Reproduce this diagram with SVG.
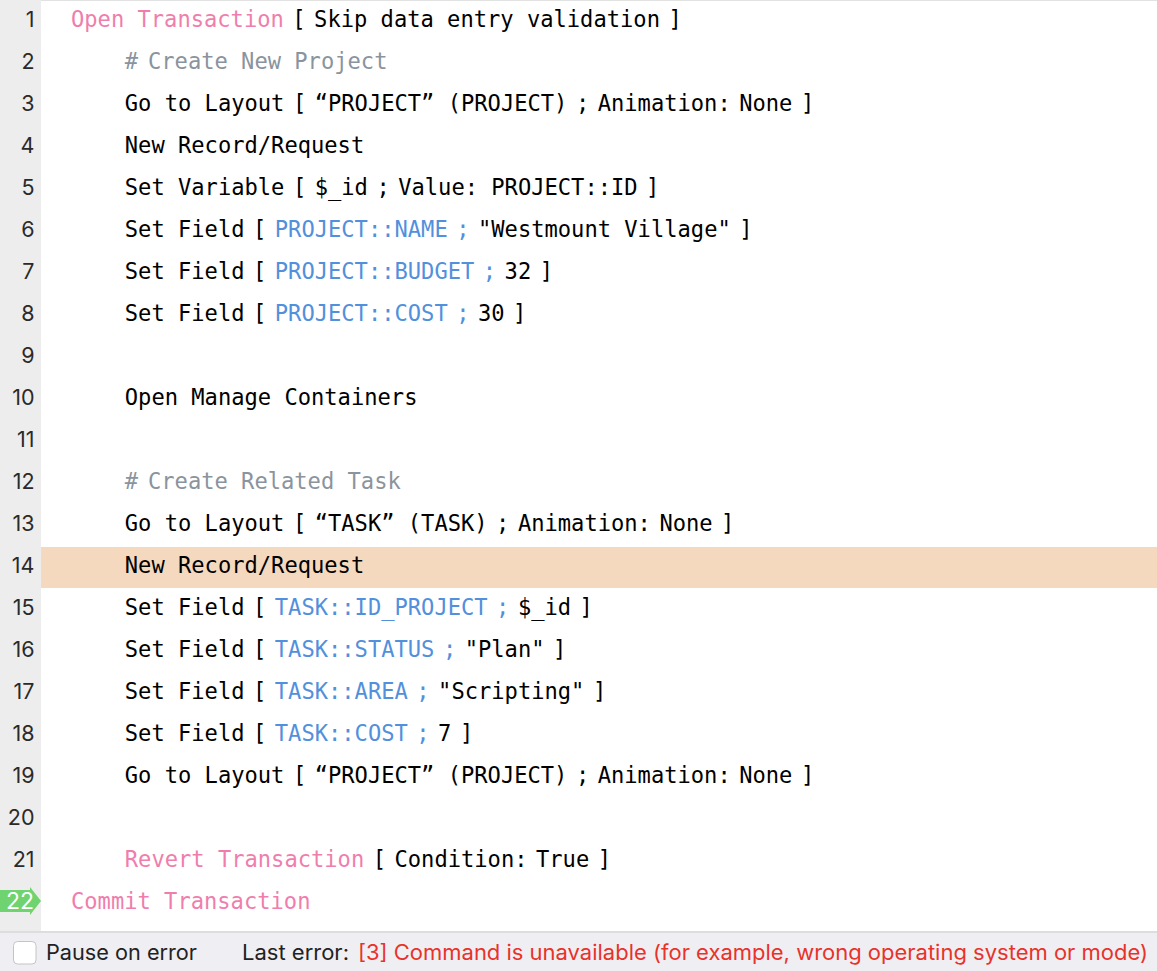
<svg xmlns="http://www.w3.org/2000/svg" width="1157" height="971" viewBox="0 0 1157 971">
<style>
.c{font-family:"DejaVu Sans Mono","Liberation Mono",monospace;font-size:22.1px;fill:#000}
.kw{fill:#EF7EAD}
.cm{fill:#8A949E}
.fd{fill:#5290DC}
.ln{font-family:Inter,"Liberation Sans",sans-serif;font-size:21.5px;text-anchor:end;fill:#2a2a2a}
.ui{font-family:Inter,"Liberation Sans",sans-serif;font-size:21px}
</style>
<rect x="0" y="0" width="1157" height="971" fill="#ffffff"/>
<g id="gutter">
<rect x="0" y="0" width="41" height="932" fill="#EDEDED"/>
<line x1="41" y1="0.5" x2="1157" y2="0.5" stroke="#E2E2E2" stroke-width="1"/>
<rect id="current-line-highlight" x="41" y="547" width="1116" height="41" fill="#F5D9BE"/>
<text class="ln" x="34.5" y="26.7">1</text>
<text class="ln" x="34.5" y="68.7">2</text>
<text class="ln" x="34.5" y="110.7">3</text>
<text class="ln" x="34.5" y="152.7">4</text>
<text class="ln" x="34.5" y="194.7">5</text>
<text class="ln" x="34.5" y="236.7">6</text>
<text class="ln" x="34.5" y="278.7">7</text>
<text class="ln" x="34.5" y="320.7">8</text>
<text class="ln" x="34.5" y="362.7">9</text>
<text class="ln" x="34.5" y="404.7">10</text>
<text class="ln" x="34.5" y="446.7">11</text>
<text class="ln" x="34.5" y="488.7">12</text>
<text class="ln" x="34.5" y="530.7">13</text>
<text class="ln" x="34.5" y="572.7">14</text>
<text class="ln" x="34.5" y="614.7">15</text>
<text class="ln" x="34.5" y="656.7">16</text>
<text class="ln" x="34.5" y="698.7">17</text>
<text class="ln" x="34.5" y="740.7">18</text>
<text class="ln" x="34.5" y="782.7">19</text>
<text class="ln" x="34.5" y="824.7">20</text>
<text class="ln" x="34.5" y="866.7">21</text>
<path id="current-step-arrow" d="M0,890 H30 V887 L41,901 L30,915 V912 H0 Z" fill="#6FD36F"/>
<text class="ln" x="34" y="909" style="fill:#ffffff;font-size:23px">22</text>
</g>
<g id="code" transform="translate(1.5,0)">
<g id="line1"><text class="c" y="26.7"><tspan class="kw" x="69.5">Open Transaction</tspan><tspan x="290.8">[</tspan><tspan x="312.6">Skip data entry validation</tspan><tspan x="666.9">]</tspan></text></g>
<g id="line2"><text class="c cm" y="68.7"><tspan x="123.3">#</tspan><tspan x="146.5">Create New Project</tspan></text></g>
<g id="line3"><text class="c" y="110.7"><tspan x="123.3">Go to Layout</tspan><tspan x="291.4">[</tspan><tspan x="313.2">“PROJECT” (PROJECT)</tspan><tspan x="574.4">;</tspan><tspan x="596.2">Animation:</tspan><tspan x="737.7">None</tspan><tspan x="799.4">]</tspan></text></g>
<g id="line4"><text class="c" y="152.7"><tspan x="123.3">New Record/Request</tspan></text></g>
<g id="line5"><text class="c" y="194.7"><tspan x="123.3">Set Variable</tspan><tspan x="291.4">[</tspan><tspan x="313.2">$_id</tspan><tspan x="374.9">;</tspan><tspan x="396.7">Value: PROJECT::ID</tspan><tspan x="644.6">]</tspan></text></g>
<g id="line6"><text class="c" y="236.7"><tspan x="123.3">Set Field</tspan><tspan x="251.5">[</tspan><tspan class="fd" x="273.3">PROJECT::NAME</tspan><tspan class="fd" x="454.7">;</tspan><tspan x="476.5">"Westmount Village"</tspan><tspan x="737.7">]</tspan></text></g>
<g id="line7"><text class="c" y="278.7"><tspan x="123.3">Set Field</tspan><tspan x="251.5">[</tspan><tspan class="fd" x="273.3">PROJECT::BUDGET</tspan><tspan class="fd" x="481.3">;</tspan><tspan x="503.1">32</tspan><tspan x="538.2">]</tspan></text></g>
<g id="line8"><text class="c" y="320.7"><tspan x="123.3">Set Field</tspan><tspan x="251.5">[</tspan><tspan class="fd" x="273.3">PROJECT::COST</tspan><tspan class="fd" x="454.7">;</tspan><tspan x="476.5">30</tspan><tspan x="511.6">]</tspan></text></g>
<g id="line10"><text class="c" y="404.7"><tspan x="123.3">Open Manage Containers</tspan></text></g>
<g id="line12"><text class="c cm" y="488.7"><tspan x="123.3">#</tspan><tspan x="146.5">Create Related Task</tspan></text></g>
<g id="line13"><text class="c" y="530.7"><tspan x="123.3">Go to Layout</tspan><tspan x="291.4">[</tspan><tspan x="313.2">“TASK” (TASK)</tspan><tspan x="494.6">;</tspan><tspan x="516.4">Animation:</tspan><tspan x="657.9">None</tspan><tspan x="719.6">]</tspan></text></g>
<g id="line14"><text class="c" y="572.7"><tspan x="123.3">New Record/Request</tspan></text></g>
<g id="line15"><text class="c" y="614.7"><tspan x="123.3">Set Field</tspan><tspan x="251.5">[</tspan><tspan class="fd" x="273.3">TASK::ID_PROJECT</tspan><tspan class="fd" x="494.6">;</tspan><tspan x="516.4">$_id</tspan><tspan x="578.1">]</tspan></text></g>
<g id="line16"><text class="c" y="656.7"><tspan x="123.3">Set Field</tspan><tspan x="251.5">[</tspan><tspan class="fd" x="273.3">TASK::STATUS</tspan><tspan class="fd" x="441.4">;</tspan><tspan x="463.2">"Plan"</tspan><tspan x="551.5">]</tspan></text></g>
<g id="line17"><text class="c" y="698.7"><tspan x="123.3">Set Field</tspan><tspan x="251.5">[</tspan><tspan class="fd" x="273.3">TASK::AREA</tspan><tspan class="fd" x="414.8">;</tspan><tspan x="436.6">"Scripting"</tspan><tspan x="591.4">]</tspan></text></g>
<g id="line18"><text class="c" y="740.7"><tspan x="123.3">Set Field</tspan><tspan x="251.5">[</tspan><tspan class="fd" x="273.3">TASK::COST</tspan><tspan class="fd" x="414.8">;</tspan><tspan x="436.6">7</tspan><tspan x="458.4">]</tspan></text></g>
<g id="line19"><text class="c" y="782.7"><tspan x="123.3">Go to Layout</tspan><tspan x="291.4">[</tspan><tspan x="313.2">“PROJECT” (PROJECT)</tspan><tspan x="574.4">;</tspan><tspan x="596.2">Animation:</tspan><tspan x="737.7">None</tspan><tspan x="799.4">]</tspan></text></g>
<g id="line21"><text class="c" y="866.7"><tspan class="kw" x="123.3">Revert Transaction</tspan><tspan x="371.2">[</tspan><tspan x="393">Condition:</tspan><tspan x="534.5">True</tspan><tspan x="596.2">]</tspan></text></g>
<g id="line22"><text class="c kw" y="908.7"><tspan x="69.5">Commit Transaction</tspan></text></g>
</g>
<g id="status-bar">
<rect x="0" y="932" width="1157" height="39" fill="#EFEFF3"/>
<rect x="0" y="931" width="1157" height="2" fill="#DCDCE1"/>
<rect id="pause-checkbox" x="13.5" y="941.5" width="22.5" height="22.5" rx="4" fill="#ffffff" stroke="#C4C4C8" stroke-width="1"/>
<text class="ui" x="46" y="960" fill="#222222" textLength="151" lengthAdjust="spacingAndGlyphs">Pause on error</text>
<text class="ui" x="242" y="960" fill="#222222" textLength="107" lengthAdjust="spacingAndGlyphs">Last error:</text>
<text class="ui" x="358" y="960" fill="#E8322A" textLength="790" lengthAdjust="spacingAndGlyphs">[3] Command is unavailable (for example, wrong operating system or mode)</text>
</g>
</svg>
